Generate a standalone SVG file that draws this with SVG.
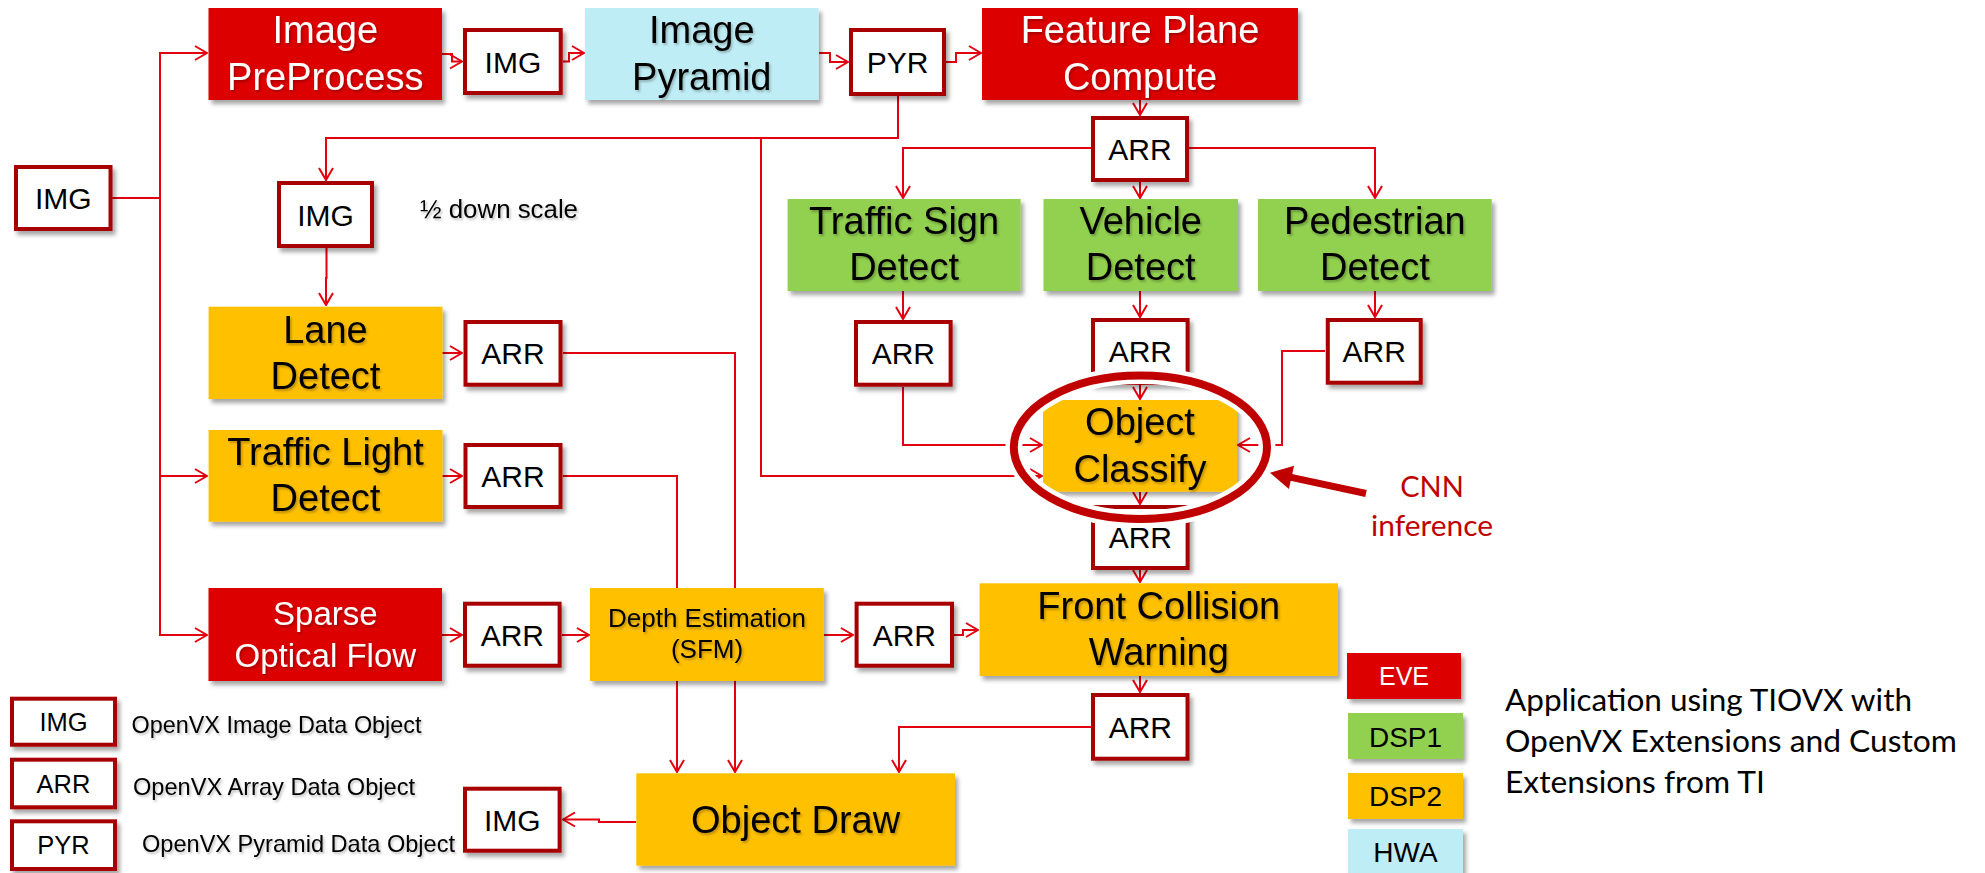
<svg xmlns="http://www.w3.org/2000/svg" width="1985" height="873" viewBox="0 0 1985 873">
  <defs>
    <style>
      text { font-family: "Liberation Sans", Arial, sans-serif; fill: #000; }
      .proc { stroke: none; filter: url(#shadow); }
      .eve { fill: #dd0000; }
      .dsp1 { fill: #92d050; }
      .dsp2 { fill: #ffc000; }
      .hwa { fill: #bfedf5; }
      .obj { fill: #fff; stroke: #a80000; stroke-width: 4; filter: url(#shadow); }
      .big { font-size: 38px; text-anchor: middle; filter: url(#tshadow); }
      .w { fill: #fff; }
      .dobj { font-size: 30px; text-anchor: middle; }
      .leg { font-size: 25.5px; text-anchor: middle; }
      .desc { font-size: 24px; filter: url(#tshadow); }
      .wire { fill: none; stroke: #e3000f; stroke-width: 2; marker-end: url(#arrow); }
      .note { font-family: Lato, "Open Sans", sans-serif; }
    </style>
    <filter id="shadow" x="-10%" y="-10%" width="130%" height="140%">
      <feDropShadow dx="3" dy="4" stdDeviation="2" flood-color="#000" flood-opacity="0.35"/>
    </filter>
    <filter id="tshadow" x="-5%" y="-20%" width="115%" height="150%">
      <feDropShadow dx="1.5" dy="2" stdDeviation="1.2" flood-color="#000" flood-opacity="0.25"/>
    </filter>
    <marker id="arrow" markerUnits="userSpaceOnUse" viewBox="0 0 14 16" refX="13" refY="8" markerWidth="14" markerHeight="16" orient="auto">
      <path d="M1,1 L13,8 L1,15" fill="none" stroke="#e3000f" stroke-width="2"/>
    </marker>
  </defs>

  <rect width="1985" height="873" fill="#fff"/>

  <!-- connectors -->
  <g id="connectors">
    <!-- input image fan-out -->
    <path class="wire" d="M112,198 H160 V53 H207"/>
    <path class="wire" d="M160,198 V476 H207"/>
    <path class="wire" d="M160,476 V635 H207"/>
    <!-- top pipeline -->
    <path class="wire" d="M442,54 H452 V61.5 H462"/>
    <path class="wire" d="M563,61.5 H569 V53 H584"/>
    <path class="wire" d="M819,53 H830 V62 H848"/>
    <path class="wire" d="M946,62 H956 V53 H981"/>
    <!-- pyramid outputs -->
    <path class="wire" d="M898,96 V138 H326 V180"/>
    <path class="wire" d="M761,138 V476 H1042"/>
    <path class="wire" d="M326.5,248 V278 H326 V305"/>
    <!-- feature plane fan-out -->
    <path class="wire" d="M1140,100 V115"/>
    <path class="wire" d="M1091,148 H903 V198"/>
    <path class="wire" d="M1189,148 H1375 V198"/>
    <path class="wire" d="M1140,182 V198"/>
    <path class="wire" d="M903,291 V319"/>
    <path class="wire" d="M1140,291 V317"/>
    <path class="wire" d="M1375,291 V317"/>
    <!-- into object classify -->
    <path class="wire" d="M903,387 V445 H1042"/>
    <path class="wire" d="M1140,385 V399"/>
    <path class="wire" d="M1325,351 H1282 V445 H1238"/>
    <path class="wire" d="M1140,492 V504"/>
    <path class="wire" d="M1140,570 V582"/>
    <!-- lane / traffic light to draw -->
    <path class="wire" d="M442,353 H462"/>
    <path class="wire" d="M442,476 H462"/>
    <path class="wire" d="M563,353 H735 V772"/>
    <path class="wire" d="M563,476 H677 V772"/>
    <!-- optical flow chain -->
    <path class="wire" d="M442,635 H462"/>
    <path class="wire" d="M562,635 H589"/>
    <path class="wire" d="M824,635 H853"/>
    <path class="wire" d="M954,635 H963 V630 H978"/>
    <path class="wire" d="M1140,676 V692"/>
    <path class="wire" d="M1091,727 H899 V772"/>
    <path class="wire" d="M636,822 H599 V819.5 H563"/>
  </g>

  <!-- processing nodes -->
  <g id="image-preprocess">
    <rect class="proc eve" x="208.5" y="8" width="233.5" height="92"/>
    <text class="big w" x="325.3" y="43">Image</text>
    <text class="big w" x="325.3" y="90">PreProcess</text>
  </g>
  <g id="image-pyramid">
    <rect class="proc hwa" x="585" y="8" width="233.6" height="92"/>
    <text class="big" x="701.8" y="43">Image</text>
    <text class="big" x="701.8" y="90">Pyramid</text>
  </g>
  <g id="feature-plane-compute">
    <rect class="proc eve" x="982" y="8" width="316" height="92"/>
    <text class="big w" x="1140" y="43">Feature Plane</text>
    <text class="big w" x="1140" y="90">Compute</text>
  </g>
  <g id="traffic-sign-detect">
    <rect class="proc dsp1" x="787.6" y="199" width="233" height="92"/>
    <text class="big" x="904.1" y="234">Traffic Sign</text>
    <text class="big" x="904.1" y="280">Detect</text>
  </g>
  <g id="vehicle-detect">
    <rect class="proc dsp1" x="1043.5" y="199" width="194.5" height="92"/>
    <text class="big" x="1140.7" y="234">Vehicle</text>
    <text class="big" x="1140.7" y="280">Detect</text>
  </g>
  <g id="pedestrian-detect">
    <rect class="proc dsp1" x="1258" y="199" width="233.7" height="92"/>
    <text class="big" x="1374.9" y="234">Pedestrian</text>
    <text class="big" x="1374.9" y="280">Detect</text>
  </g>
  <g id="lane-detect">
    <rect class="proc dsp2" x="208.6" y="306.7" width="233.9" height="92.3"/>
    <text class="big" x="325.5" y="343">Lane</text>
    <text class="big" x="325.5" y="389">Detect</text>
  </g>
  <g id="traffic-light-detect">
    <rect class="proc dsp2" x="208.6" y="430" width="233.9" height="91.7"/>
    <text class="big" x="325.5" y="465">Traffic Light</text>
    <text class="big" x="325.5" y="511">Detect</text>
  </g>
  <g id="sparse-optical-flow">
    <rect class="proc eve" x="208.5" y="588" width="233.5" height="93"/>
    <text class="big w" x="325.3" y="625" style="font-size:33px">Sparse</text>
    <text class="big w" x="325.3" y="667" style="font-size:33px">Optical Flow</text>
  </g>
  <g id="depth-estimation">
    <rect class="proc dsp2" x="590" y="588" width="233.8" height="93"/>
    <text class="big" x="707" y="627" style="font-size:26px">Depth Estimation</text>
    <text class="big" x="707" y="658" style="font-size:26px">(SFM)</text>
  </g>
  <g id="object-classify">
    <rect class="proc dsp2" x="1043" y="400" width="194" height="91.7"/>
    <text class="big" x="1140" y="435">Object</text>
    <text class="big" x="1140" y="482">Classify</text>
  </g>
  <g id="front-collision-warning">
    <rect class="proc dsp2" x="979.6" y="583.3" width="358.4" height="92.7"/>
    <text class="big" x="1158.8" y="619">Front Collision</text>
    <text class="big" x="1158.8" y="665">Warning</text>
  </g>
  <g id="object-draw">
    <rect class="proc dsp2" x="636.3" y="773.3" width="318.7" height="92.4"/>
    <text class="big" x="795.6" y="833">Object Draw</text>
  </g>

  <!-- data objects -->
  <g id="img-input">
    <rect class="obj" x="16" y="167" width="94.5" height="62"/>
    <text class="dobj" x="63.3" y="209">IMG</text>
  </g>
  <g id="img-preprocessed">
    <rect class="obj" x="465" y="30" width="95.7" height="63"/>
    <text class="dobj" x="512.9" y="73">IMG</text>
  </g>
  <g id="pyr">
    <rect class="obj" x="851" y="30" width="93" height="64"/>
    <text class="dobj" x="897.5" y="73">PYR</text>
  </g>
  <g id="img-half">
    <rect class="obj" x="279" y="183" width="93" height="63"/>
    <text class="dobj" x="325.5" y="225.5">IMG</text>
    <text class="desc" x="420" y="218" style="font-size:25px" textLength="158" lengthAdjust="spacingAndGlyphs">½ down scale</text>
  </g>
  <g id="arr-features">
    <rect class="obj" x="1093" y="118" width="94" height="62"/>
    <text class="dobj" x="1140" y="160">ARR</text>
  </g>
  <g id="arr-lane">
    <rect class="obj" x="465.5" y="322" width="95" height="62.7"/>
    <text class="dobj" x="513" y="364">ARR</text>
  </g>
  <g id="arr-traffic-light">
    <rect class="obj" x="465.5" y="445" width="95" height="62"/>
    <text class="dobj" x="513" y="487">ARR</text>
  </g>
  <g id="arr-traffic-sign">
    <rect class="obj" x="856" y="322" width="94.6" height="62.7"/>
    <text class="dobj" x="903.3" y="364">ARR</text>
  </g>
  <g id="arr-vehicle">
    <rect class="obj" x="1093" y="320" width="94.6" height="63"/>
    <text class="dobj" x="1140.3" y="362">ARR</text>
  </g>
  <g id="arr-pedestrian">
    <rect class="obj" x="1327.8" y="320" width="92.9" height="62.7"/>
    <text class="dobj" x="1374.2" y="362">ARR</text>
  </g>
  <g id="arr-classified">
    <rect class="obj" x="1093" y="507" width="94.6" height="61"/>
    <text class="dobj" x="1140.3" y="548">ARR</text>
  </g>
  <g id="arr-optical-flow">
    <rect class="obj" x="465" y="603.7" width="94.6" height="62"/>
    <text class="dobj" x="512.3" y="645.7">ARR</text>
  </g>
  <g id="arr-depth">
    <rect class="obj" x="856.6" y="603.7" width="95.4" height="62"/>
    <text class="dobj" x="904.3" y="645.7">ARR</text>
  </g>
  <g id="arr-collision">
    <rect class="obj" x="1093" y="695" width="94.5" height="63.7"/>
    <text class="dobj" x="1140.3" y="738">ARR</text>
  </g>
  <g id="img-output">
    <rect class="obj" x="465" y="788.7" width="94.6" height="62"/>
    <text class="dobj" x="512.3" y="830.7">IMG</text>
  </g>

  <!-- CNN inference highlight -->
  <g id="cnn-highlight">
    <ellipse cx="1140.4" cy="447.3" rx="126.6" ry="71.7" fill="none" stroke="#fff" stroke-width="17"/>
    <ellipse cx="1140.4" cy="447.3" rx="126.6" ry="71.7" fill="none" stroke="#c00000" stroke-width="8"/>
    <line x1="1366" y1="493.5" x2="1290" y2="477.2" stroke="#c00000" stroke-width="7"/>
    <polygon points="1270,472.7 1294.1,465.7 1288.9,489.1" fill="#c00000"/>
    <text class="note" x="1432" y="497" font-size="29" text-anchor="middle" style="fill:#c00000">CNN</text>
    <text class="note" x="1432" y="536" font-size="29" text-anchor="middle" style="fill:#c00000" textLength="122" lengthAdjust="spacingAndGlyphs">inference</text>
  </g>

  <!-- data object legend -->
  <g id="legend-objects">
    <rect class="obj" x="12" y="698.7" width="103" height="46"/>
    <text class="leg" x="63.5" y="731">IMG</text>
    <text class="desc" x="131.5" y="733.3" textLength="290" lengthAdjust="spacingAndGlyphs">OpenVX Image Data Object</text>
    <rect class="obj" x="12" y="759.7" width="103" height="47.6"/>
    <text class="leg" x="63.5" y="792.5">ARR</text>
    <text class="desc" x="133" y="795" textLength="282" lengthAdjust="spacingAndGlyphs">OpenVX Array Data Object</text>
    <rect class="obj" x="12" y="821.3" width="103" height="47.7"/>
    <text class="leg" x="63.5" y="854">PYR</text>
    <text class="desc" x="142" y="851.7" textLength="313" lengthAdjust="spacingAndGlyphs">OpenVX Pyramid Data Object</text>
  </g>

  <!-- core legend -->
  <g id="legend-cores">
    <rect class="proc eve" x="1347" y="653" width="114" height="46"/>
    <text x="1404" y="685" font-size="25" text-anchor="middle" style="fill:#fff">EVE</text>
    <rect class="proc dsp1" x="1348" y="713" width="115" height="46"/>
    <text x="1405.5" y="746.5" font-size="28" text-anchor="middle">DSP1</text>
    <rect class="proc dsp2" x="1348" y="773" width="115" height="46"/>
    <text x="1405.5" y="806" font-size="28" text-anchor="middle">DSP2</text>
    <rect class="proc hwa" x="1348" y="829" width="115" height="48"/>
    <text x="1405.5" y="861.5" font-size="28" text-anchor="middle">HWA</text>
  </g>

  <g id="caption" class="note" font-size="30">
    <text class="note" x="1505" y="711" textLength="407" lengthAdjust="spacingAndGlyphs">Application using TIOVX with</text>
    <text class="note" x="1505" y="752" textLength="452" lengthAdjust="spacingAndGlyphs">OpenVX Extensions and Custom</text>
    <text class="note" x="1505" y="793" textLength="260" lengthAdjust="spacingAndGlyphs">Extensions from TI</text>
  </g>
</svg>
